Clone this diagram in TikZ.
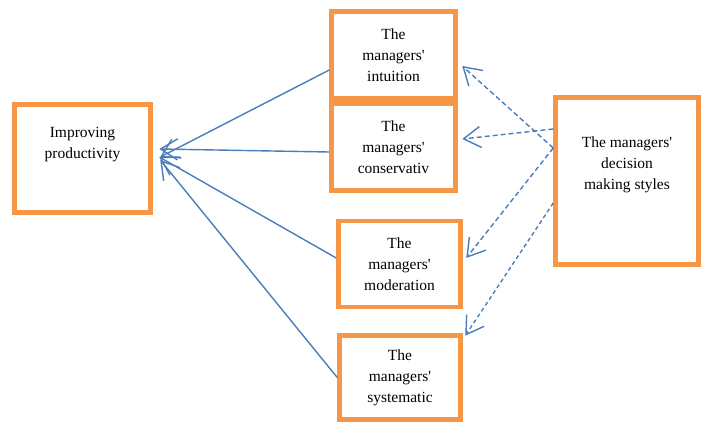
\documentclass[tikz,border=0pt]{standalone}
\usepackage{fontspec}
\setmainfont{Liberation Serif}
\usetikzlibrary{arrows.meta}
\definecolor{boxorange}{HTML}{F79646}
\definecolor{linkblue}{HTML}{4A7EBB}
\newcommand{\mgr}{managers\textquotesingle}

\begin{document}
\begin{tikzpicture}[x=1pt,y=1pt,
    box/.style={draw=boxorange,line width=4.5pt,fill=white,align=center,
      inner sep=0pt,font=\fontsize{15.5}{21}\selectfont},
    txt/.style={align=center,inner sep=0pt,font=\fontsize{15.5}{21}\selectfont},
    link/.style={draw=linkblue,line width=1.4pt,-{Straight Barb[length=17pt,width=21pt]}},
    hint/.style={link,dash pattern=on 5pt off 3pt}]
  \useasboundingbox (0,0) rectangle (710,424);

  \node[box,minimum width=136pt,minimum height=108pt] (impr) at (82.5,265.5) {};
  \node[txt] (imprtext) at ([yshift=14]impr.center) {Improving\\productivity};

  \node[box,minimum width=124pt,minimum height=87pt] (intu) at (393.5,369) {The\\\mgr\\intuition};
  \node[box,minimum width=124pt,minimum height=87pt] (cons) at (393.5,277) {The\\\mgr\\conservativ};
  \node[box,minimum width=122pt,minimum height=86pt] (mod) at (399.5,160) {The\\\mgr\\moderation};
  \node[box,minimum width=121pt,minimum height=84pt] (sys) at (400,46.5) {The\\\mgr\\systematic};

  \node[box,minimum width=143pt,minimum height=167pt] (dec) at (627,243) {};
  \node[txt] (dectext) at ([yshift=16]dec.center) {The \mgr\\decision\\making styles};

  % productivity links
  \draw[link] ([yshift=-15]intu.west) -- ([shift={(7.5,1.5)}]impr.east);
  \draw[link] ([yshift=-5]cons.west) -- ([shift={(6.5,9.5)}]impr.east);
  \draw[link] ([yshift=6]mod.west) -- ([shift={(6.5,1.5)}]impr.east);
  \draw[link] (sys.west) -- ([shift={(7.5,-1.5)}]impr.east);

  % decision style links
  \draw[hint] ([yshift=33]dec.west) -- ([shift={(4.5,-11)}]intu.east);
  \draw[hint] ([yshift=52]dec.west) -- ([shift={(4.5,8)}]cons.east);
  \draw[hint] ([yshift=33]dec.west) -- ([shift={(3.5,6)}]mod.east);
  \draw[hint,dash pattern=on 4pt off 3pt] ([yshift=-22]dec.west) -- ([shift={(2.5,-2.5)}]sys.north east);
\end{tikzpicture}
\end{document}
